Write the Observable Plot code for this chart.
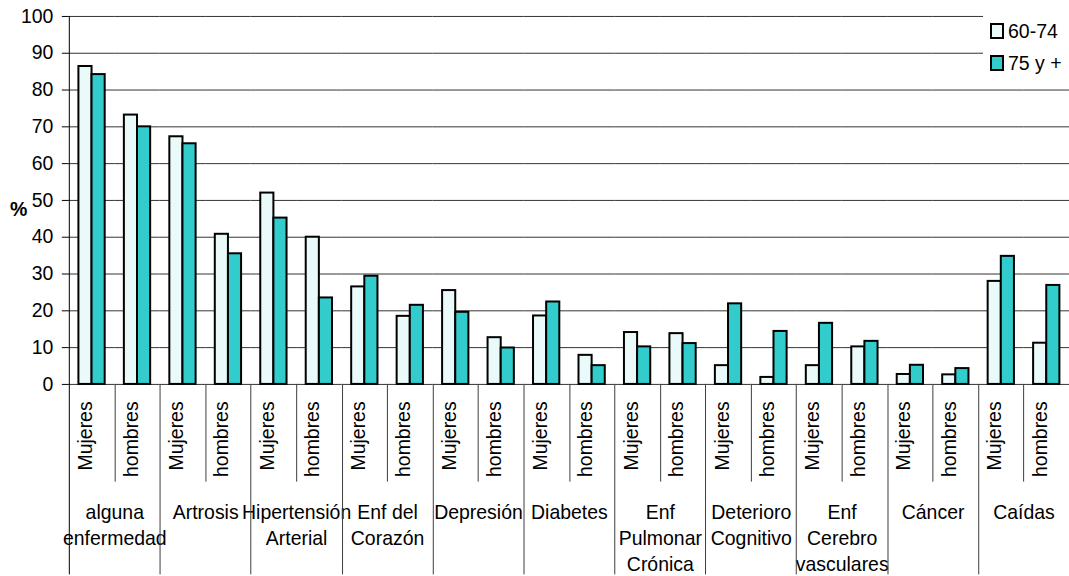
<!DOCTYPE html>
<html><head><meta charset="utf-8">
<script src="https://cdn.jsdelivr.net/npm/d3@7"></script>
<script src="https://cdn.jsdelivr.net/npm/@observablehq/plot@0.6"></script>
<style>
body{margin:0;overflow:hidden;background:#fff;font-family:"Liberation Sans",Arial,sans-serif;}
#wrap{position:relative;width:1069px;height:576px;overflow:hidden;}
#legend{position:absolute;left:983px;top:10px;width:90px;height:74px;background:#fff;font-size:19.5px;color:#000;}
.item{position:absolute;left:7px;height:16px;display:flex;align-items:center;white-space:nowrap;}
.sw{box-sizing:border-box;width:14px;height:16px;border:2px solid #000;margin-right:4px;}
#pct{position:absolute;left:10px;top:198px;font-weight:bold;font-size:19.5px;color:#000;}
</style></head><body><div id="wrap"></div>
<script>
const groups = ["alguna enfermedad","Artrosis","Hipertensión Arterial","Enf del Corazón","Depresión","Diabetes","Enf Pulmonar Crónica","Deterioro Cognitivo","Enf Cerebro vasculares","Cáncer","Caídas"];
const groupLabels = ["alguna\nenfermedad","Artrosis","Hipertensión\nArterial","Enf del\nCorazón","Depresión","Diabetes","Enf\nPulmonar\nCrónica","Deterioro\nCognitivo","Enf\nCerebro\nvasculares","Cáncer","Caídas"];
const sexes = ["Mujeres","hombres"];
const series = ["60-74","75 y +"];
// values in order: group1 Mujeres, group1 hombres, group2 Mujeres, ...
const v6074 = [86.4,73.2, 67.3,40.8, 52.0,40.0, 26.5,18.5, 25.5,12.7, 18.6,7.9, 14.1,13.8, 5.1,1.9, 5.1,10.2, 2.7,2.6, 28.0,11.2];
const v75 = [84.2,70.0, 65.4,35.5, 45.2,23.5, 29.4,21.5, 19.6,9.9, 22.4,5.1, 10.2,11.1, 21.9,14.4, 16.6,11.7, 5.2,4.3, 34.8,26.9];
const yTicks = [0,10,20,30,40,50,60,70,80,90,100];
const colors = ["#eafafa","#33cccc"];

const keys = [];
const rows = [];
const subRows = [];
const groupRows = [];
groups.forEach((g, gi) => {
  sexes.forEach((s, si) => {
    const i = gi * 2 + si;
    const key = g + "|" + s;
    keys.push(key);
    subRows.push({key, sub: s});
    rows.push({key, series: series[0], value: v6074[i]});
    rows.push({key, series: series[1], value: v75[i]});
  });
  groupRows.push({key: g + "|" + sexes[0], label: groupLabels[gi]});
});

const plot = Plot.plot({
  width: 1072, height: 576,
  marginLeft: 69, marginRight: 0, marginTop: 16, marginBottom: 191,
  style: {fontFamily: "'Liberation Sans', Arial, sans-serif", fontSize: "19.5px", color: "#000", background: "transparent", overflow: "visible"},
  fx: {domain: keys, padding: 0, round: false, axis: null},
  x: {domain: series, paddingInner: 0, paddingOuter: 0.73, round: false, axis: null},
  y: {domain: [0, 100], ticks: yTicks, tickSize: 7, tickPadding: 9, label: null},
  color: {domain: series, range: colors},
  marks: [
    Plot.ruleY(yTicks, {stroke: "#333", strokeWidth: 1}),
    Plot.barY(rows, {fx: "key", x: "series", y: "value", fill: "series", stroke: "#000", strokeWidth: 2}),
    Plot.text(subRows, {fx: "key", text: "sub", frameAnchor: "bottom", rotate: -90, textAnchor: "end", dy: 17, fill: "#000"}),
    Plot.text(groupRows, {fx: "key", text: "label", frameAnchor: "bottom-right", textAnchor: "middle", lineAnchor: "top", lineHeight: 1.34, dy: 116, fill: "#000"})
  ]
});

const wrap = document.getElementById("wrap");
wrap.appendChild(plot);

// separators below the axis, positioned through Plot's own scales
const svgEl = plot.tagName.toLowerCase() === "svg" ? plot : plot.querySelector("svg");
const svg = d3.select(svgEl);
const fxS = plot.scale("fx");
const yS = plot.scale("y");
const y0 = yS.apply(0);
const yTop = yS.apply(100);
const subTick = 98;
const bottom = 576;
const sepG = svg.append("g").attr("stroke", "#3c3c3c").attr("stroke-width", 1);
keys.forEach((k, i) => {
  const x = Math.round(fxS.apply(k)) + 0.5;
  const isGroup = i % 2 === 0;
  sepG.append("line")
    .attr("x1", x).attr("x2", x)
    .attr("y1", i === 0 ? yTop : y0)
    .attr("y2", isGroup ? bottom : y0 + subTick)
    .attr("stroke", i === 0 ? "#000" : null);
});

// legend
const legend = document.createElement("div");
legend.id = "legend";
series.forEach((s, i) => {
  const item = document.createElement("div");
  item.className = "item";
  item.style.top = (13 + i * 32) + "px";
  const sw = document.createElement("span");
  sw.className = "sw";
  sw.style.background = colors[i];
  const t = document.createElement("span");
  t.textContent = s;
  item.appendChild(sw);
  item.appendChild(t);
  legend.appendChild(item);
});
wrap.appendChild(legend);

const pct = document.createElement("div");
pct.id = "pct";
pct.textContent = "%";
wrap.appendChild(pct);
</script>
</body></html>
